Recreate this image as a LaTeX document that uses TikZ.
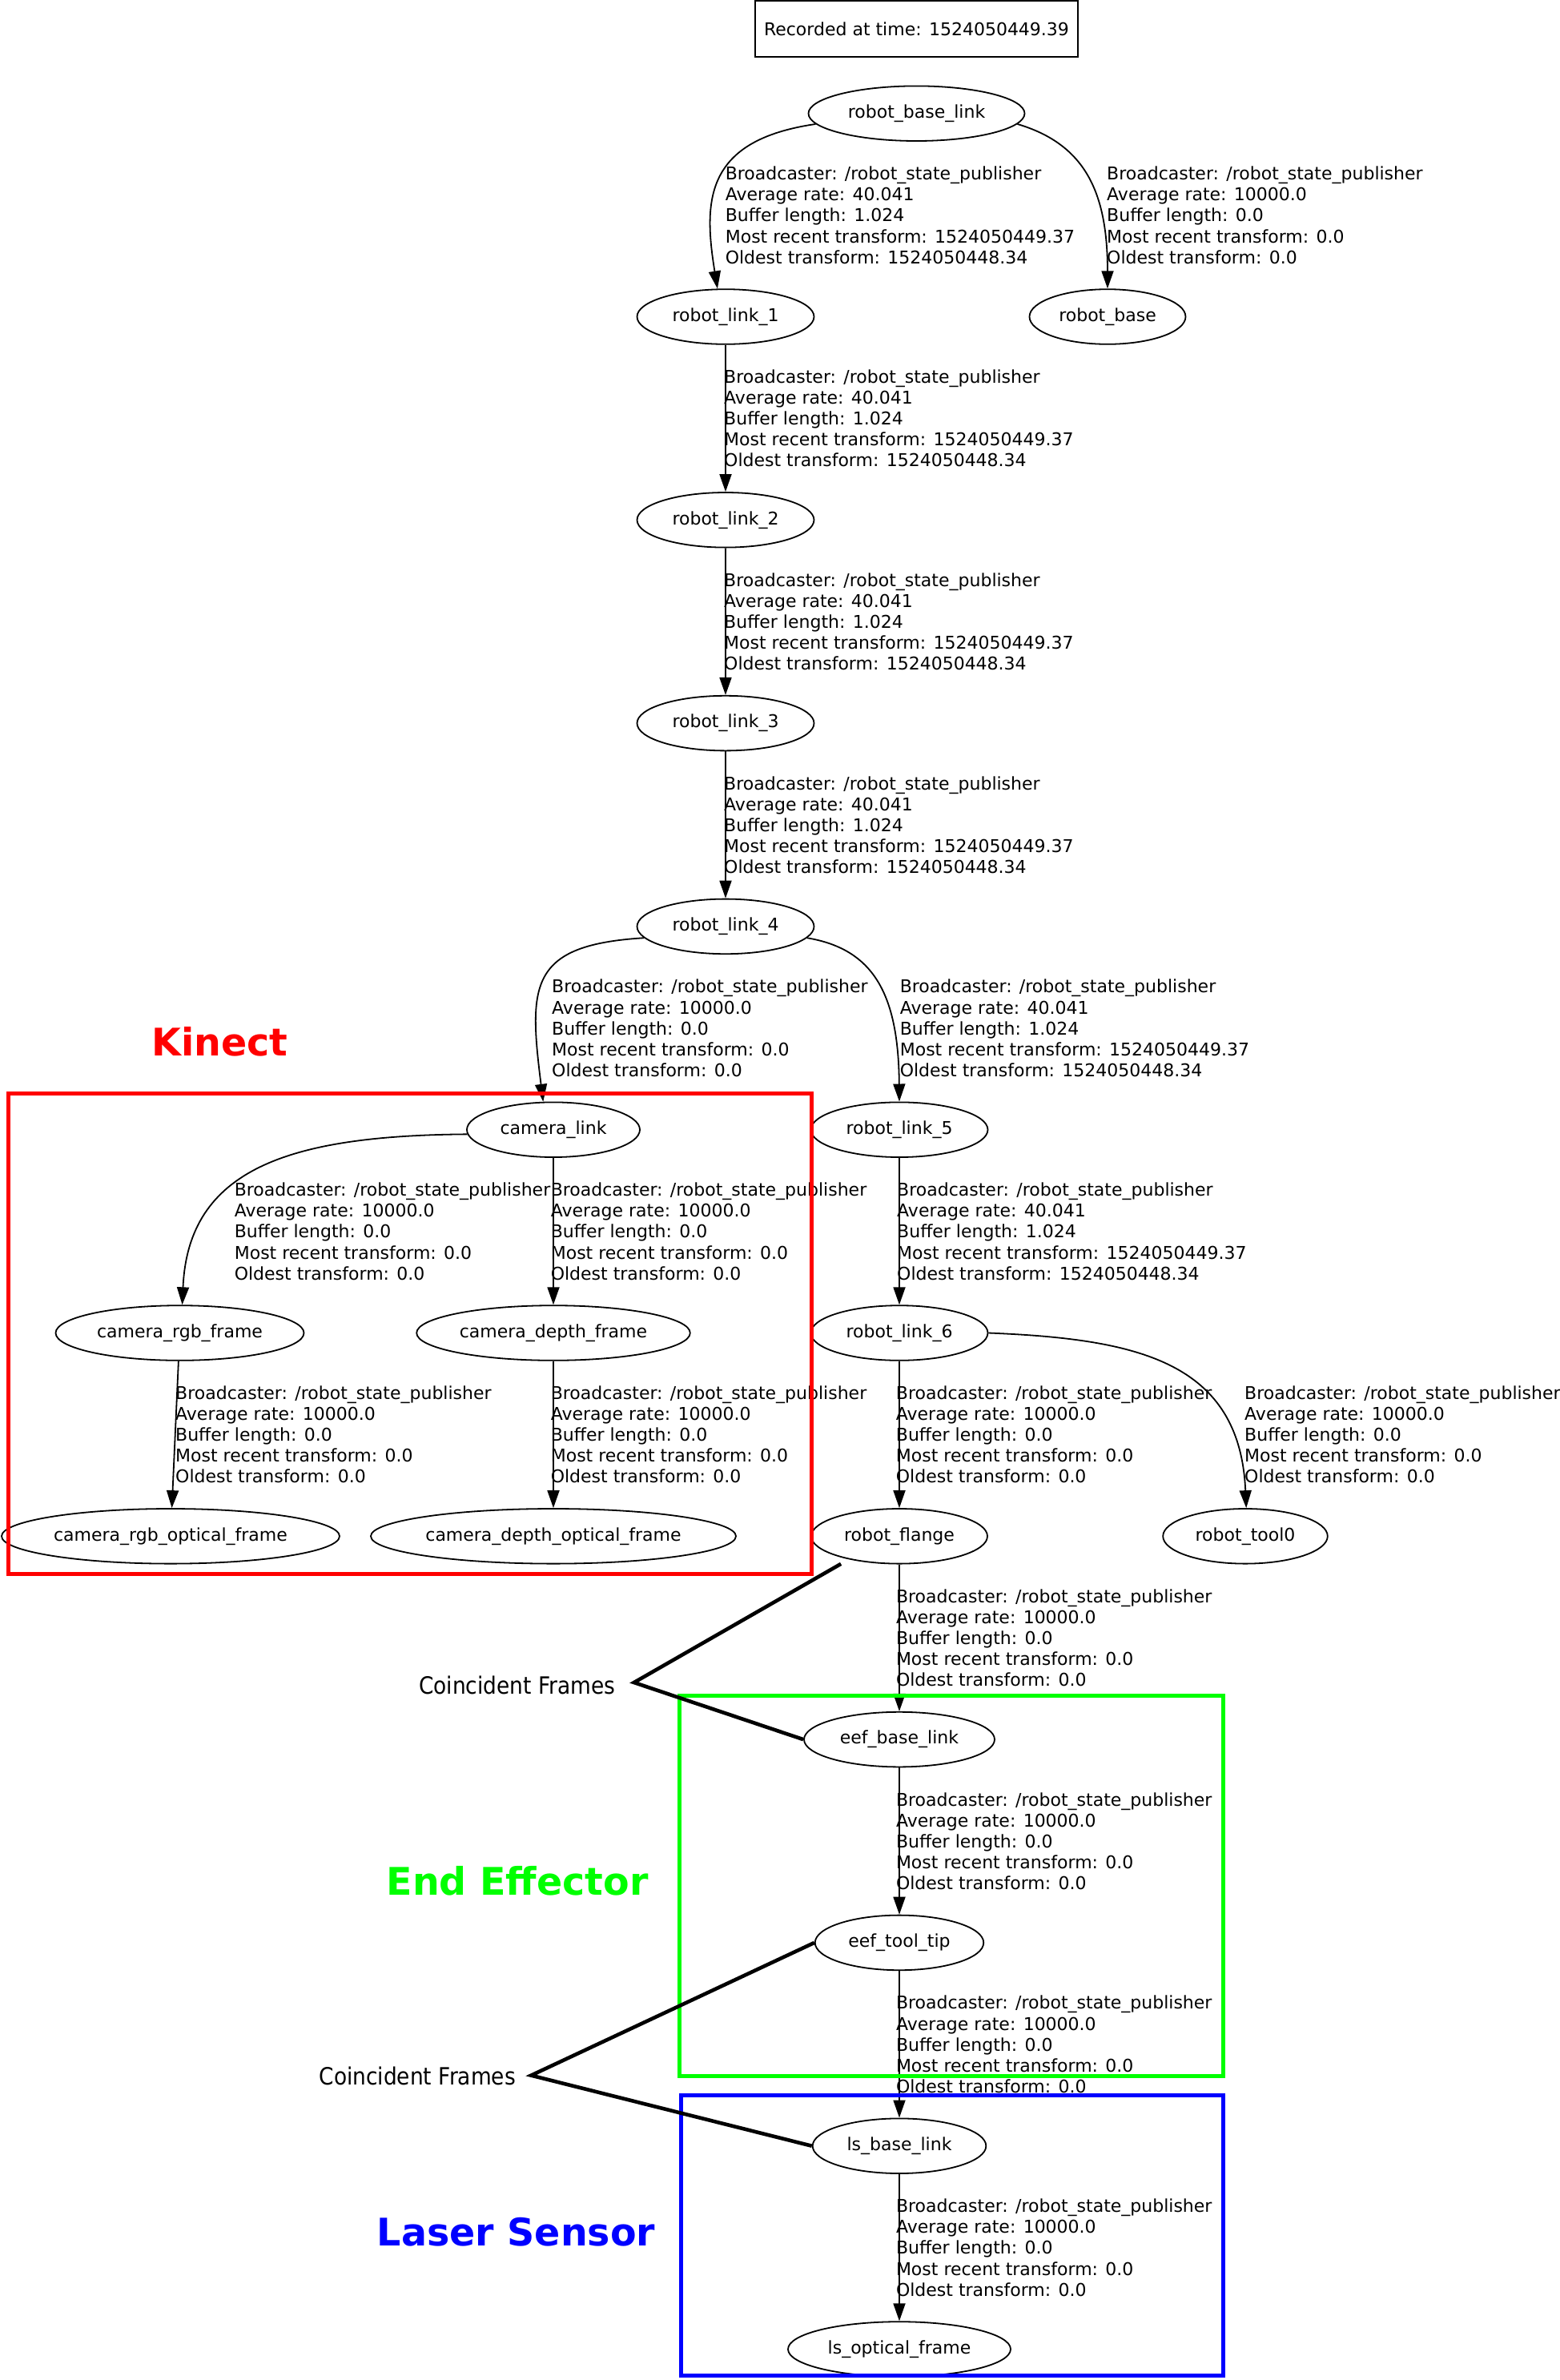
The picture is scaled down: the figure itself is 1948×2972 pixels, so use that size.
\documentclass[tikz,border=0pt]{standalone}
\usepackage{fontspec}
\setmainfont{DejaVu Sans}
\newfontfamily\condfont[FakeStretch=0.89]{DejaVu Sans}
\usetikzlibrary{shapes.geometric,arrows.meta}

\newcommand{\graphfont}{\fontsize{22}{26.1}\selectfont}

\begin{document}
\begin{tikzpicture}[x=1pt,y=-1pt,
  tfnode/.style={ellipse,draw,line width=1.8pt,minimum height=68.6pt,minimum width=#1,inner xsep=0pt,inner ysep=2pt,font=\graphfont},
  tfnode/.default=221pt,
  tfedge/.style={draw,line width=1.8pt,-{Triangle[length=22pt,width=15pt]}},
  tfinfo/.style={anchor=west,align=left,inner sep=0pt,font=\graphfont},
  groupbox/.style={draw,line width=5pt},
  grouptitle/.style={anchor=base west,inner sep=0pt,font=\bfseries\fontsize{47.5}{57}\selectfont},
  coinctext/.style={anchor=base,inner sep=0pt,font=\condfont\fontsize{29.7}{36}\selectfont},
  coincline/.style={draw,line width=4.6pt}]
			\def\colmain{906}
			\def\colcam{691}
			\def\colarm{1123}
			\def\rowtop{141.7}
			\def\rowstep{253.8}
			\def\livestats{Broadcaster: /robot\_state\_publisher\\Average rate: 40.041\\Buffer length: 1.024\\Most recent transform: 1524050449.37\\Oldest transform: 1524050448.34}
			\def\staticstats{Broadcaster: /robot\_state\_publisher\\Average rate: 10000.0\\Buffer length: 0.0\\Most recent transform: 0.0\\Oldest transform: 0.0}

			\useasboundingbox (0,0) rectangle (1948,2972);

			\node[draw,line width=1.8pt,minimum width=403.7pt,minimum height=70pt,inner sep=0pt,font=\graphfont] (recorded) at (1144.5,36) {Recorded at time: 1524050449.39};

			% Frames
			\node[tfnode=270pt] (baselink) at (1144.5,\rowtop) {robot\_base\_link};
			\node[tfnode] (link1) at (\colmain,{\rowtop+1*\rowstep}) {robot\_link\_1};
			\node[tfnode=195pt] (base) at (1383,{\rowtop+1*\rowstep}) {robot\_base};
			\node[tfnode] (link2) at (\colmain,{\rowtop+2*\rowstep}) {robot\_link\_2};
			\node[tfnode] (link3) at (\colmain,{\rowtop+3*\rowstep}) {robot\_link\_3};
			\node[tfnode] (link4) at (\colmain,{\rowtop+4*\rowstep}) {robot\_link\_4};
			\node[tfnode=216pt] (cam) at (\colcam,{\rowtop+5*\rowstep}) {camera\_link};
			\node[tfnode] (link5) at (\colarm,{\rowtop+5*\rowstep}) {robot\_link\_5};
			\node[tfnode=310pt] (rgb) at (224.5,{\rowtop+6*\rowstep}) {camera\_rgb\_frame};
			\node[tfnode=341.6pt] (depth) at (\colcam,{\rowtop+6*\rowstep}) {camera\_depth\_frame};
			\node[tfnode] (link6) at (\colarm,{\rowtop+6*\rowstep}) {robot\_link\_6};
			\node[tfnode=422pt] (rgbopt) at (213,{\rowtop+7*\rowstep}) {camera\_rgb\_optical\_frame};
			\node[tfnode=456pt] (depthopt) at (\colcam,{\rowtop+7*\rowstep}) {camera\_depth\_optical\_frame};
			\node[tfnode=220pt] (flange) at (\colarm,{\rowtop+7*\rowstep}) {robot\_flange};
			\node[tfnode=205.6pt] (tool0) at (1555,{\rowtop+7*\rowstep}) {robot\_tool0};
			\node[tfnode=238pt] (eefbase) at (\colarm,{\rowtop+8*\rowstep}) {eef\_base\_link};
			\node[tfnode=210.5pt] (eeftip) at (\colarm,{\rowtop+9*\rowstep}) {eef\_tool\_tip};
			\node[tfnode=216.6pt] (lsbase) at (\colarm,{\rowtop+10*\rowstep}) {ls\_base\_link};
			\node[tfnode=278pt] (lsopt) at (\colarm,{\rowtop+11*\rowstep}) {ls\_optical\_frame};

			% Transforms
			\draw[tfedge] (baselink.186) .. controls (880,175) and (878,250) .. (link1.106);
			\draw[tfedge] (baselink.354) .. controls (1355,180) and (1383,240) .. (base.90);
			\draw[tfedge] (link1) -- (link2);
			\draw[tfedge] (link2) -- (link3);
			\draw[tfedge] (link3) -- (link4);
			\draw[tfedge] (link4.188) .. controls (660,1180) and (660,1230) .. (cam.110);
			\draw[tfedge] (link4.352) .. controls (1090,1185) and (1122,1240) .. (link5.north);
			\draw[tfedge] (cam.183) .. controls (360,1418) and (235,1460) .. (rgb.85);
			\draw[tfedge] (cam) -- (depth);
			\draw[tfedge] (link5) -- (link6);
			\draw[tfedge] (rgb) -- (rgbopt);
			\draw[tfedge] (depth) -- (depthopt);
			\draw[tfedge] (link6) -- (flange);
			\draw[tfedge] (link6.east) .. controls (1420,1672) and (1548,1700) .. (tool0.88);
			\draw[tfedge] (flange) -- (eefbase);
			\draw[tfedge] (eefbase) -- (eeftip);
			\draw[tfedge] (eeftip) -- (lsbase);
			\draw[tfedge] (lsbase) -- (lsopt);

			% Transform info
			\node[tfinfo] (info1) at (905.6,{\rowtop+127}) {\livestats};
			\node[tfinfo] (info2) at (1382,{\rowtop+127}) {\staticstats};
			\node[tfinfo] (info3) at (904,{\rowtop+1*\rowstep+127}) {\livestats};
			\node[tfinfo] (info4) at (904,{\rowtop+2*\rowstep+127}) {\livestats};
			\node[tfinfo] (info5) at (904,{\rowtop+3*\rowstep+127}) {\livestats};
			\node[tfinfo] (info6) at (689,{\rowtop+4*\rowstep+127}) {\staticstats};
			\node[tfinfo] (info7) at (1123.6,{\rowtop+4*\rowstep+127}) {\livestats};
			\node[tfinfo] (info8) at (292.6,{\rowtop+5*\rowstep+127}) {\staticstats};
			\node[tfinfo] (info9) at (687.6,{\rowtop+5*\rowstep+127}) {\staticstats};
			\node[tfinfo] (info10) at (1120,{\rowtop+5*\rowstep+127}) {\livestats};
			\node[tfinfo] (info11) at (219,{\rowtop+6*\rowstep+127}) {\staticstats};
			\node[tfinfo] (info12) at (687.6,{\rowtop+6*\rowstep+127}) {\staticstats};
			\node[tfinfo] (info13) at (1118.7,{\rowtop+6*\rowstep+127}) {\staticstats};
			\node[tfinfo] (info14) at (1554,{\rowtop+6*\rowstep+127}) {\staticstats};
			\node[tfinfo] (info15) at (1118.8,{\rowtop+7*\rowstep+127}) {\staticstats};
			\node[tfinfo] (info16) at (1118.8,{\rowtop+8*\rowstep+127}) {\staticstats};
			\node[tfinfo] (info17) at (1118.8,{\rowtop+9*\rowstep+127}) {\staticstats};
			\node[tfinfo] (info18) at (1118.8,{\rowtop+10*\rowstep+127}) {\staticstats};

			% Groups
			\draw[groupbox,red] (10.5,1365) rectangle (1013.7,1965);
			\node[grouptitle,red] (kinect) at (189,1318.3) {Kinect};
			\draw[groupbox,green] (848.4,2117.7) rectangle (1527.2,2592.9);
			\node[grouptitle,green] (eef) at (482.4,2366.7) {End Effector};
			\draw[groupbox,blue] (850.6,2616) rectangle (1527.2,2966.7);
			\node[grouptitle,blue] (laser) at (470.7,2804) {Laser Sensor};

			% Coincident frames
			\node[coinctext] (coinc1) at (645.7,2115) {Coincident Frames};
			\coordinate (coinc1tip) at (791.7,2101);
			\draw[coincline] ([yshift=-8pt]flange.200) -- (coinc1tip) -- (eefbase.west);
			\node[coinctext] (coinc2) at (521.2,2603) {Coincident Frames};
			\coordinate (coinc2tip) at (663.2,2591.6);
			\draw[coincline] (eeftip.west) -- (coinc2tip) -- (lsbase.west);
		\end{tikzpicture}
\end{document}
